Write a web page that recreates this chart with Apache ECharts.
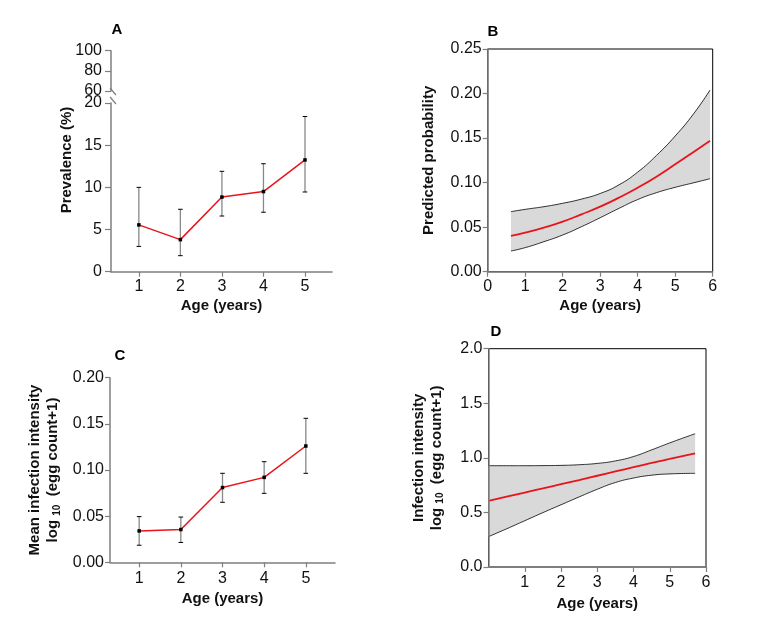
<!DOCTYPE html>
<html>
<head>
<meta charset="utf-8">
<script src="https://cdn.jsdelivr.net/npm/echarts@6/dist/echarts.min.js"></script>
<style>html,body{margin:0;padding:0;background:#fff}#c{width:773px;height:631px}</style>
</head>
<body>
<div id="c"></div>
<script>
// ---- Panel A: prevalence (%) by age ----
const ageCats = [1, 2, 3, 4, 5];
const prevalence = [5.55, 3.8, 8.85, 9.5, 13.25];
const prevLow = [3.0, 1.9, 6.6, 7.05, 9.45];
const prevHigh = [10.0, 7.4, 11.9, 12.8, 18.4];

// ---- Panel B: predicted probability ----
const bAge = [0.62, 1, 1.5, 2, 2.5, 3, 3.5, 4, 4.5, 5, 5.5, 5.93];
const bMean = [0.0401, 0.0438, 0.0494, 0.0562, 0.0644, 0.0730, 0.0831, 0.0943, 0.1067, 0.1205, 0.1347, 0.1470];
const bUpper = [0.0674, 0.0700, 0.0730, 0.0768, 0.0815, 0.0878, 0.0975, 0.1118, 0.1305, 0.1523, 0.1778, 0.2040];
const bLower = [0.0232, 0.0270, 0.0337, 0.0412, 0.0505, 0.0606, 0.0711, 0.0810, 0.0887, 0.0947, 0.0999, 0.1044];

// ---- Panel C: mean infection intensity ----
const intensity = [0.034, 0.0355, 0.081, 0.092, 0.126];
const intLow = [0.0185, 0.0215, 0.065, 0.0747, 0.0964];
const intHigh = [0.0495, 0.049, 0.0964, 0.109, 0.156];

// ---- Panel D: infection intensity ----
const dAge = [0, 0.5, 1, 1.5, 2, 2.5, 3, 3.5, 4, 4.5, 5, 5.7];
const dMean = [0.605, 0.644, 0.682, 0.720, 0.759, 0.797, 0.836, 0.875, 0.914, 0.953, 0.991, 1.041];
const dUpper = [0.928, 0.928, 0.928, 0.929, 0.931, 0.937, 0.949, 0.972, 1.012, 1.073, 1.137, 1.221];
const dLower = [0.278, 0.350, 0.424, 0.498, 0.570, 0.642, 0.712, 0.774, 0.815, 0.841, 0.853, 0.858];

const FONT = '"Liberation Sans", Arial, Helvetica, sans-serif';
const AXC = '#7f7f7f';
const RED = '#e8141c';
const BAND = '#d9d9d9';

const pairs = (xs, ys) => xs.map((x, i) => [x, ys[i]]);
// value first, age second, so stacking happens on the value (y) dimension
const vpairs = (xs, ys) => xs.map((x, i) => [ys[i], x]);
const vdiffs = (xs, up, lo) => xs.map((x, i) => [up[i] - lo[i], x]);

function axisBase(extra) {
  return Object.assign({
    type: 'value',
    z: 10,
    axisLine: { show: true, lineStyle: { color: AXC, width: 1.5 } },
    axisTick: { show: true, length: 5, lineStyle: { color: AXC, width: 1.2 } },
    splitLine: { show: false },
    axisLabel: { color: '#111', fontSize: 16, fontFamily: FONT },
    nameTextStyle: { color: '#111', fontSize: 15, fontWeight: 'bold', fontFamily: FONT },
    nameLocation: 'middle'
  }, extra);
}

function errBarSeries(xi, yi, name, lows, highs, vals) {
  return {
    type: 'custom', name: name, xAxisIndex: xi, yAxisIndex: yi, z: 3,
    data: ageCats.map((a, i) => [a, vals[i], lows[i], highs[i]]),
    renderItem: function (params, api) {
      const x = api.value(0);
      const p1 = api.coord([x, api.value(2)]);
      const p2 = api.coord([x, api.value(3)]);
      const cw = 2.3;
      return {
        type: 'group',
        children: [
          { type: 'line', shape: { x1: p1[0], y1: p1[1], x2: p2[0], y2: p2[1] }, style: { stroke: '#888', lineWidth: 1.3 } },
          { type: 'line', shape: { x1: p1[0] - cw, y1: p1[1], x2: p1[0] + cw, y2: p1[1] }, style: { stroke: '#000', lineWidth: 1 } },
          { type: 'line', shape: { x1: p2[0] - cw, y1: p2[1], x2: p2[0] + cw, y2: p2[1] }, style: { stroke: '#000', lineWidth: 1 } }
        ]
      };
    }
  };
}

function bandSeries(xi, key, ages, upper, lower, mean) {
  return [
    { type: 'line', xAxisIndex: xi, yAxisIndex: xi, stack: key, smooth: true, symbol: 'none', z: 2,
      encode: { x: 1, y: 0 }, data: vpairs(ages, lower), lineStyle: { color: '#000', width: 0.8 } },
    { type: 'line', xAxisIndex: xi, yAxisIndex: xi, stack: key, smooth: true, symbol: 'none', z: 2,
      encode: { x: 1, y: 0 }, data: vdiffs(ages, upper, lower), lineStyle: { color: '#000', width: 0.8 },
      areaStyle: { color: BAND, opacity: 1 } },
    { type: 'line', xAxisIndex: xi, yAxisIndex: xi, smooth: true, symbol: 'none', z: 4,
      data: pairs(ages, mean), lineStyle: { color: RED, width: 1.8 } }
  ];
}

const chart = echarts.init(document.getElementById('c'), null, { renderer: 'canvas' });

const ylabRich = {
  t: { fontSize: 15, fontWeight: 'bold', fontFamily: FONT, color: '#111', lineHeight: 18 },
  s: { fontSize: 10, fontWeight: 'bold', fontFamily: FONT, color: '#111', lineHeight: 18, padding: [8, 0, 0, 0] }
};

const option = {
  animation: false,
  backgroundColor: '#fff',
  textStyle: { fontFamily: FONT },
  grid: [
    { left: 111, top: 103, width: 221, height: 168.7 },            // A lower
    { left: 111, top: 50.7, width: 221, height: 40.3 },            // A upper
    { left: 487.7, top: 49, width: 225, height: 222.7, show: true, borderColor: '#000', borderWidth: 1, backgroundColor: 'transparent' }, // B
    { left: 110, top: 377.7, width: 225, height: 184.6 },          // C
    { left: 488.5, top: 348.7, width: 217.5, height: 218.3, show: true, borderColor: '#000', borderWidth: 1, backgroundColor: 'transparent' } // D
  ],
  xAxis: [
    axisBase({ gridIndex: 0, min: 0.33, max: 5.65, name: 'Age (years)', nameGap: 27,
      axisTick: { show: true, length: 5, customValues: ageCats, lineStyle: { color: AXC, width: 1.2 } },
      axisLabel: { color: '#111', fontSize: 16, fontFamily: FONT, margin: 7, customValues: ageCats } }),
    { type: 'value', gridIndex: 1, min: 0.33, max: 5.65, show: false },
    axisBase({ gridIndex: 2, min: 0, max: 6, interval: 1, name: 'Age (years)', nameGap: 27,
      axisLabel: { color: '#111', fontSize: 16, fontFamily: FONT, margin: 7 } }),
    axisBase({ gridIndex: 3, min: 0.3, max: 5.7, name: 'Age (years)', nameGap: 29,
      axisTick: { show: true, length: 5, customValues: ageCats, lineStyle: { color: AXC, width: 1.2 } },
      axisLabel: { color: '#111', fontSize: 16, fontFamily: FONT, margin: 8, customValues: ageCats } }),
    axisBase({ gridIndex: 4, min: 0, max: 6, interval: 1, name: 'Age (years)', nameGap: 29,
      axisLabel: { color: '#111', fontSize: 16, fontFamily: FONT, margin: 8, showMinLabel: false } })
  ],
  yAxis: [
    axisBase({ gridIndex: 0, min: 0, max: 20, interval: 5,
      axisTick: { show: true, length: 6, lineStyle: { color: AXC, width: 1.2 } },
      axisLabel: { color: '#111', fontSize: 16, fontFamily: FONT, margin: 9 } }),
    axisBase({ gridIndex: 1, min: 60, max: 100, interval: 20,
      axisTick: { show: true, length: 6, lineStyle: { color: AXC, width: 1.2 } },
      axisLabel: { color: '#111', fontSize: 16, fontFamily: FONT, margin: 9 } }),
    axisBase({ gridIndex: 2, min: 0, max: 0.25, interval: 0.05, name: 'Predicted probability', nameGap: 51,
      axisLabel: { color: '#111', fontSize: 16, fontFamily: FONT, margin: 6, formatter: v => v.toFixed(2) } }),
    axisBase({ gridIndex: 3, min: 0, max: 0.2, interval: 0.05, nameGap: 48,
      name: '{t|Mean infection intensity}\n{t|log }{s|10}{t|  (egg count+1)}',
      nameTextStyle: { color: '#111', fontSize: 15, fontWeight: 'bold', fontFamily: FONT, lineHeight: 18, rich: ylabRich },
      axisLabel: { color: '#111', fontSize: 16, fontFamily: FONT, margin: 6, formatter: v => v.toFixed(2) } }),
    axisBase({ gridIndex: 4, min: 0, max: 2, interval: 0.5, nameGap: 43,
      name: '{t|Infection intensity}\n{t|log }{s|10}{t|  (egg count+1)}',
      nameTextStyle: { color: '#111', fontSize: 15, fontWeight: 'bold', fontFamily: FONT, lineHeight: 18, rich: ylabRich },
      axisLabel: { color: '#111', fontSize: 16, fontFamily: FONT, margin: 6, formatter: v => v.toFixed(1) } })
  ],
  series: [
    errBarSeries(0, 0, 'prevErr', prevLow, prevHigh, prevalence),
    { type: 'line', xAxisIndex: 0, yAxisIndex: 0, z: 4, data: pairs(ageCats, prevalence),
      lineStyle: { color: RED, width: 1.5 }, symbol: 'rect', symbolSize: 3.5, itemStyle: { color: '#000' } },
    ...bandSeries(2, 'bandB', bAge, bUpper, bLower, bMean),
    errBarSeries(3, 3, 'intErr', intLow, intHigh, intensity),
    { type: 'line', xAxisIndex: 3, yAxisIndex: 3, z: 4, data: pairs(ageCats, intensity),
      lineStyle: { color: RED, width: 1.5 }, symbol: 'rect', symbolSize: 3.5, itemStyle: { color: '#000' } },
    ...bandSeries(4, 'bandD', dAge, dUpper, dLower, dMean)
  ],
  graphic: [
    { type: 'text', x: 117, y: 30, style: { text: 'A', fontSize: 15, fontWeight: 'bold', fontFamily: FONT, fill: '#000', textAlign: 'center', textVerticalAlign: 'middle' } },
    { type: 'text', x: 493, y: 32, style: { text: 'B', fontSize: 15, fontWeight: 'bold', fontFamily: FONT, fill: '#000', textAlign: 'center', textVerticalAlign: 'middle' } },
    { type: 'text', x: 120, y: 356, style: { text: 'C', fontSize: 15, fontWeight: 'bold', fontFamily: FONT, fill: '#000', textAlign: 'center', textVerticalAlign: 'middle' } },
    { type: 'text', x: 496, y: 332, style: { text: 'D', fontSize: 15, fontWeight: 'bold', fontFamily: FONT, fill: '#000', textAlign: 'center', textVerticalAlign: 'middle' } },
    { type: 'text', x: 66.7, y: 160, rotation: Math.PI / 2, style: { text: 'Prevalence (%)', fontSize: 15, fontWeight: 'bold', fontFamily: FONT, fill: '#111', textAlign: 'center', textVerticalAlign: 'middle' } },
    { type: 'line', shape: { x1: 110, y1: 88, x2: 116, y2: 95 }, style: { stroke: AXC, lineWidth: 1.2 } },
    { type: 'line', shape: { x1: 110, y1: 97, x2: 116, y2: 104 }, style: { stroke: AXC, lineWidth: 1.2 } }
  ]
};
chart.setOption(option);
</script>
</body>
</html>
